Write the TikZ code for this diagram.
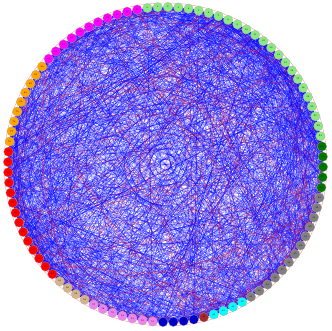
\documentclass[tikz,border=0pt]{standalone}
\pgfdeclarelayer{background}
\pgfsetlayers{background,main}
\definecolor{lgreen}{RGB}{140,232,130}
\definecolor{dgreen}{RGB}{0,120,0}
\definecolor{ngray}{RGB}{128,128,128}
\definecolor{ncyan}{RGB}{0,255,255}
\definecolor{nbrown}{RGB}{165,42,42}
\definecolor{dblue}{RGB}{0,0,205}
\definecolor{npink}{RGB}{238,130,238}
\definecolor{ntan}{RGB}{210,180,140}
\definecolor{nred}{RGB}{255,0,0}
\definecolor{norange}{RGB}{255,165,0}
\definecolor{nmagenta}{RGB}{255,0,255}
\tikzset{
  vtx/.style={circle, draw=black!35, line width=0.15pt, minimum size=9.5pt, inner sep=0pt,
    font=\fontsize{2.2}{2.5}\selectfont},
  bl/.style={draw=blue, opacity=0.4, line width=0.3pt},
  rd/.style={draw=red, opacity=0.45, line width=0.3pt},
  rim/.style={draw=red, opacity=0.4, line width=0.4pt}
}
\begin{document}
\begin{tikzpicture}[x=1pt,y=1pt]
\useasboundingbox (0,-330) rectangle (332,0);
\coordinate (C) at (165.5,-164.5);
\begin{scope}[shift={(165.5,-164.5)}]
\foreach \a/\b/\c in {0/23/lgreen,24/28/dgreen,29/41/ngray,42/45/ncyan,46/46/nbrown,47/50/dblue,51/57/npink,58/61/ntan,62/75/nred,76/84/norange,85/95/nmagenta}{
  \foreach \i in {\a,...,\b}{
    \node[vtx, fill=\c] (n\i) at ({96.6-3.75*\i}:157.5) {\i};
  }
}
\end{scope}
\begin{pgfonlayer}{background}
\draw[rim] (C) circle (161.5);
\pgfmathsetseed{7}
\foreach \i in {0,...,95}{
  \foreach \k in {1,...,17}{
    \pgfmathrandominteger{\j}{0}{95}
    \ifnum\j=\i\else \draw[bl] (n\i) -- (n\j);\fi
  }
  \foreach \k in {1,...,5}{
    \pgfmathtruncatemacro{\j}{mod(\i+\k,96)}
    \draw[bl] (n\i) -- (n\j);
  }
}
\foreach \i in {4,...,23}{
  \foreach \k in {1,...,14}{
    \pgfmathrandominteger{\j}{0}{95}
    \ifnum\j=\i\else \draw[bl] (n\i) -- (n\j);\fi
  }
}
\foreach \i in {62,...,75}{
  \foreach \k in {1,...,8}{
    \pgfmathrandominteger{\j}{0}{95}
    \ifnum\j=\i\else \draw[bl] (n\i) -- (n\j);\fi
  }
}
\foreach \k in {1,...,160}{
  \pgfmathrandominteger{\p}{0}{95}
  \pgfmathrandominteger{\q}{0}{95}
  \ifnum\p=\q\else \draw[rd] (n\p) to[bend left=15] (n\q);\fi
}
\end{pgfonlayer}
\end{tikzpicture}
\end{document}
